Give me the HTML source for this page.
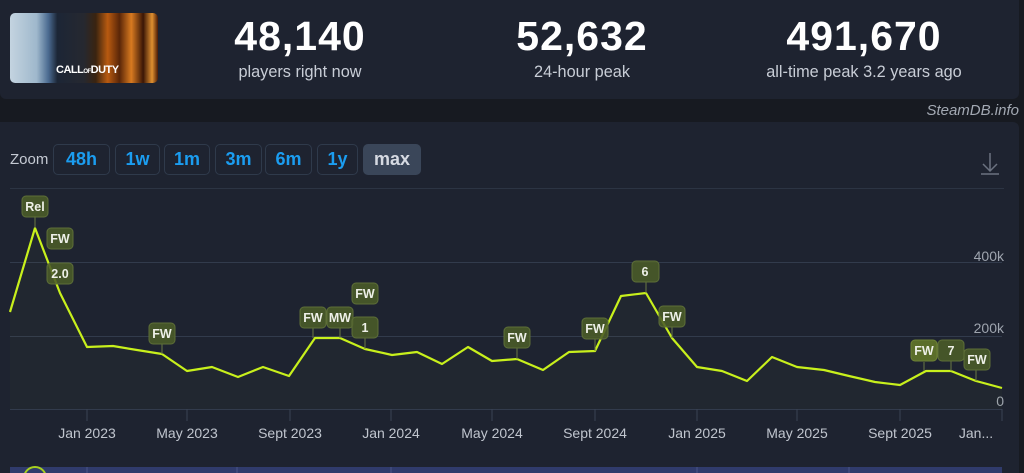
<!DOCTYPE html>
<html><head><meta charset="utf-8"><style>
*{margin:0;padding:0;box-sizing:border-box}
body{width:1024px;height:473px;background:#171a21;overflow:hidden;position:relative;font-family:"Liberation Sans",sans-serif}
.top{position:absolute;left:0;top:0;width:1019px;height:99px;background:#1e2330;border-radius:0 0 6px 6px}
.chart{position:absolute;left:0;top:122px;width:1019px;height:351px;background:#1e2330;border-radius:0 6px 0 0}
.img{position:absolute;left:10px;top:13px;width:148px;height:70px;border-radius:5px;overflow:hidden;background:linear-gradient(90deg,#c4d4e0 0%,#9fb8cc 18%,#4a6a90 26%,#1c2636 32%,#262830 50%,#3a2410 58%,#b85a10 66%,#5a2608 74%,#d87a20 82%,#3a1606 90%,#e09030 96%,#4a1a05 100%)}
.img .t{position:absolute;left:46px;top:51px;color:#fff;font-weight:bold;font-size:11px;letter-spacing:-0.5px;font-family:"Liberation Sans Narrow","Liberation Sans",sans-serif}
.stat{position:absolute;top:13px;text-align:center;color:#fff}
.stat .n{font-size:41px;font-weight:bold;line-height:46px;letter-spacing:1px}
.stat .l{font-size:16.3px;color:#c8cdd6;line-height:20px;margin-top:3px}
.sdb{position:absolute;right:5px;top:102px;font-style:italic;color:#a3a9b3;font-size:15px}
.zoom{position:absolute;left:10px;top:151px;color:#c5cad3;font-size:15px}
.btn{position:absolute;top:144px;height:31px;border:1px solid #2f3a4b;border-radius:5px;color:#1b9df0;font-weight:bold;font-size:18px;text-align:center;line-height:29px}
.btn.max{background:#3a4659;border-color:#3a4659;color:#d6dae2}
</style></head><body>
<div class="top"></div>
<div class="img"><div class="t">CALL<span style="font-size:6px">OF</span>DUTY</div></div>
<div class="stat" style="left:200px;width:200px"><div class="n">48,140</div><div class="l">players right now</div></div>
<div class="stat" style="left:482px;width:200px"><div class="n">52,632</div><div class="l">24-hour peak</div></div>
<div class="stat" style="left:739px;width:250px"><div class="n">491,670</div><div class="l">all-time peak 3.2 years ago</div></div>
<div class="sdb">SteamDB.info</div>
<div class="chart"></div>
<div class="zoom">Zoom</div>
<div class="btn" style="left:53px;width:57px">48h</div>
<div class="btn" style="left:115px;width:45px">1w</div>
<div class="btn" style="left:164px;width:46px">1m</div>
<div class="btn" style="left:215px;width:47px">3m</div>
<div class="btn" style="left:265px;width:47px">6m</div>
<div class="btn" style="left:317px;width:41px">1y</div>
<div class="btn max" style="left:363px;width:58px">max</div>
<svg style="position:absolute;left:0;top:0" width="1024" height="473" viewBox="0 0 1024 473">
<g stroke="#6b7280" stroke-width="1.5" fill="none"><path d="M990 153 V171 M983 164 L990 171 L997 164 M981 174 H999"/></g>
<line x1="10" y1="188.5" x2="1004" y2="188.5" stroke="#2c3443"/>
<g stroke="#323b4c" stroke-width="1"><line x1="10" y1="262.5" x2="1002" y2="262.5"/><line x1="10" y1="336.5" x2="1002" y2="336.5"/><line x1="10" y1="409.5" x2="1002" y2="409.5"/></g>
<g stroke="#3a4354"><path d="M87 409V421M187 409V421M290 409V421M391 409V421M492 409V421M595 409V421M697 409V421M797 409V421M900 409V421M1002 409V421"/></g>
<g fill="#c0c5ce" font-size="14" text-anchor="middle" font-family="Liberation Sans,sans-serif"><text x="87" y="438">Jan 2023</text><text x="187" y="438">May 2023</text><text x="290" y="438">Sept 2023</text><text x="391" y="438">Jan 2024</text><text x="492" y="438">May 2024</text><text x="595" y="438">Sept 2024</text><text x="697" y="438">Jan 2025</text><text x="797" y="438">May 2025</text><text x="900" y="438">Sept 2025</text><text x="976" y="438">Jan...</text></g>
<g fill="#9ea4ae" font-size="14" text-anchor="end" font-family="Liberation Sans,sans-serif"><text x="1004" y="261">400k</text><text x="1004" y="333">200k</text><text x="1004" y="406">0</text></g>
<path d="M10 312 L35 228 L60 293 L87 347 L113 346 L137 350 L162 354 L187 371 L212 367 L238 377 L263 367 L289 376 L315 338 L340 338 L365 349 L392 355 L417 352 L442 364 L468 347 L492 361 L517 359 L543 370 L569 352 L595 351 L621 296 L646 293 L672 338 L697 367 L722 371 L747 381 L772 357 L797 367 L824 370 L849 376 L875 382 L900 385 L926 371 L951 371 L976 381 L1002 388 L1002 409 L10 409Z" fill="rgba(200,240,30,0.02)"/>
<path d="M10 312 L35 228 L60 293 L87 347 L113 346 L137 350 L162 354 L187 371 L212 367 L238 377 L263 367 L289 376 L315 338 L340 338 L365 349 L392 355 L417 352 L442 364 L468 347 L492 361 L517 359 L543 370 L569 352 L595 351 L621 296 L646 293 L672 338 L697 367 L722 371 L747 381 L772 357 L797 367 L824 370 L849 376 L875 382 L900 385 L926 371 L951 371 L976 381 L1002 388" fill="none" stroke="#c8f01c" stroke-width="2.2" stroke-linejoin="round"/>
<g stroke="#6a7a44" stroke-width="1"><path d="M35 216V228M162 344V354M313 328V338M340 328V338M365 338V349M517 348V359M595 339V351M646 282V293M672 327V338M924 362V371M951 361V371M976 370V381"/></g>
<g font-family="Liberation Sans,sans-serif" font-weight="bold" font-size="12.5" text-anchor="middle">
<g fill="rgba(75,92,40,0.88)" stroke="#5d6e38" stroke-width="1">
<rect x="22" y="196" width="26" height="21" rx="4"/>
<rect x="47" y="228" width="26" height="21" rx="4"/>
<rect x="47" y="263" width="26" height="21" rx="4"/>
<rect x="149" y="323" width="26" height="21" rx="4"/>
<rect x="300" y="307" width="26" height="21" rx="4"/>
<rect x="327" y="307" width="26" height="21" rx="4"/>
<rect x="352" y="283" width="26" height="21" rx="4"/>
<rect x="352" y="317" width="26" height="21" rx="4"/>
<rect x="504" y="327" width="26" height="21" rx="4"/>
<rect x="582" y="318" width="26" height="21" rx="4"/>
<rect x="632" y="261" width="27" height="21" rx="4"/>
<rect x="659" y="306" width="26" height="21" rx="4"/>
<rect x="938" y="340" width="26" height="21" rx="4"/>
<rect x="964" y="349" width="26" height="21" rx="4"/>
</g>
<rect x="911" y="340" width="26" height="21" rx="4" fill="#5b6e2a" stroke="#6e8236"/>
<g fill="#eef0e8">
<text x="35" y="211">Rel</text>
<text x="60" y="243">FW</text>
<text x="60" y="278">2.0</text>
<text x="162" y="338">FW</text>
<text x="313" y="322">FW</text>
<text x="340" y="322">MW</text>
<text x="365" y="298">FW</text>
<text x="365" y="332">1</text>
<text x="517" y="342">FW</text>
<text x="595" y="333">FW</text>
<text x="645" y="276">6</text>
<text x="672" y="321">FW</text>
<text x="924" y="355">FW</text>
<text x="951" y="355">7</text>
<text x="977" y="364">FW</text>
</g></g>
<rect x="10" y="467" width="992" height="6" fill="#303b6c"/>
<g stroke="#4a5588"><path d="M87 467V473M237 467V473M391 467V473M697 467V473M849 467V473"/></g>
<circle cx="35" cy="478" r="11" fill="none" stroke="#a8d020" stroke-width="2"/>
</svg>
</body></html>
